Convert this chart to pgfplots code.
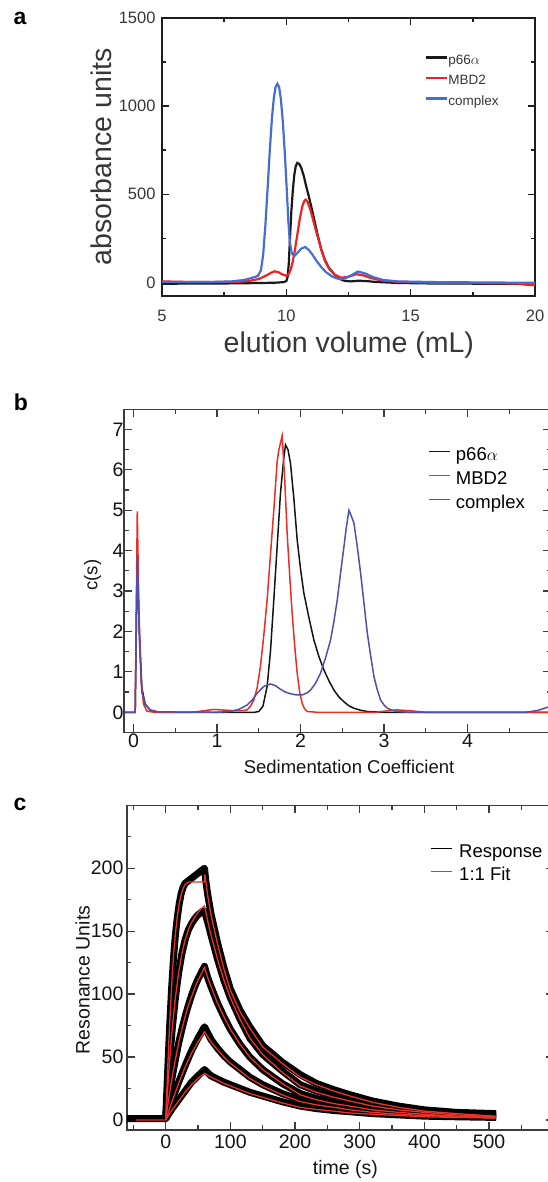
\documentclass[border=0pt]{standalone}
\usepackage{fontspec}
\setmainfont{Liberation Sans}
\usepackage{pgfplots}
\pgfplotsset{compat=1.18}
\definecolor{aBlack}{RGB}{25,25,25}
\definecolor{aRed}{RGB}{235,35,35}
\definecolor{aBlue}{RGB}{70,110,210}
\definecolor{aAxis}{RGB}{30,30,30}
\definecolor{aText}{RGB}{55,55,55}
\definecolor{bBlack}{RGB}{20,20,20}
\definecolor{bRed}{RGB}{235,45,35}
\definecolor{bBlue}{RGB}{80,80,170}
\definecolor{bAxis}{RGB}{60,60,60}
\definecolor{cRed}{RGB}{235,50,40}
\begin{document}
\begin{tikzpicture}
\useasboundingbox (0pt,0pt) rectangle (547pt,1182pt);
\pgfplotsset{every axis/.append style={scale only axis,
  /pgf/number format/assume math mode=true,
  /pgf/number format/1000 sep={}, scaled ticks=false, legend cell align=left}}

% ---------------- panel a ----------------
\begin{axis}[
  at={(162pt,886.3pt)}, anchor=south west,
  width=373pt, height=277.7pt,
  xmin=5, xmax=20, ymin=-75, ymax=1500,
  xtick={5,10,15,20}, minor xtick={7.5,12.5,17.5},
  ytick={0,500,1000,1500}, minor ytick={250,750,1250},
  major tick length=7pt, minor tick length=4pt,
  axis line style={line width=1.8pt, color=aAxis},
  tick style={line width=1.6pt, color=aAxis},
  tick label style={font=\fontsize{16.5}{18}\selectfont, color=aText},
  xticklabel style={yshift=-11pt},
  yticklabel style={xshift=-3pt},
  xlabel={elution volume (mL)}, ylabel={absorbance units},
  label style={font=\fontsize{28.5}{30}\selectfont, color=aText},
  xlabel style={at={(axis description cs:0.501,-0.1775)}, anchor=center},
  ylabel style={at={(axis description cs:-0.1635,0.5)}, anchor=center},
  legend style={at={(axis description cs:0.704,0.868)}, anchor=north west,
    draw=none, fill=none, inner sep=0pt, outer sep=0pt,
    font=\fontsize{13.5}{14}\selectfont, text=aText, row sep=7.8pt,
    nodes={inner sep=0pt, text height=9.7pt, text depth=3pt},
    /tikz/every odd column/.append style={column sep=0.5pt}},
  legend image code/.code={\draw[#1] (0pt,3.5pt) -- (21pt,3.5pt);},
]
\addplot[aBlack, line width=2.2pt] coordinates {(5,-8) (6,-6) (7,-6) (8,-5) (9,-3) (9.6,-1) (9.9,2) (10.0,8) (10.05,30) (10.1,110) (10.15,260) (10.2,400) (10.26,520) (10.32,610) (10.38,660) (10.44,678) (10.52,672) (10.6,650) (10.7,605) (10.8,545) (10.9,490) (11.0,432) (11.14,345) (11.27,263) (11.4,190) (11.54,131) (11.7,85) (11.94,45) (12.15,20) (12.34,9) (12.6,6) (12.9,10) (13.2,8) (13.6,3) (14.5,-3) (16,-6) (18,-7) (20,-8)};
\addlegendentry{p66$\alpha$}
\addplot[aRed, line width=2.2pt] coordinates {(5,6) (6,3) (7,2) (8,3) (8.5,8) (8.9,20) (9.2,40) (9.4,56) (9.53,63) (9.68,58) (9.85,45) (10.0,38) (10.1,48) (10.18,75) (10.26,120) (10.34,180) (10.44,270) (10.54,360) (10.64,430) (10.72,462) (10.78,470) (10.86,455) (10.95,420) (11.05,370) (11.17,305) (11.3,240) (11.43,175) (11.56,122) (11.72,78) (11.94,44) (12.2,27) (12.5,32) (12.81,47) (13.1,40) (13.4,25) (13.8,12) (14.5,3) (16,-2) (18,-4) (19.3,-6) (19.7,-14) (20,-14)};
\addlegendentry{MBD2}
\addplot[aBlue, line width=2.2pt] coordinates {(5,3) (6,2) (7,3) (7.8,6) (8.3,14) (8.6,25) (8.86,37) (8.98,70) (9.07,160) (9.16,330) (9.25,540) (9.34,760) (9.42,930) (9.5,1050) (9.57,1110) (9.64,1127) (9.71,1108) (9.78,1040) (9.86,910) (9.94,730) (10.02,520) (10.08,350) (10.14,230) (10.22,165) (10.32,150) (10.45,168) (10.6,192) (10.76,201) (10.9,185) (11.05,158) (11.2,125) (11.4,88) (11.6,58) (11.85,33) (12.1,20) (12.35,22) (12.6,40) (12.88,62) (13.15,52) (13.5,30) (13.9,14) (14.5,6) (16,2) (18,0) (20,-2)};
\addlegendentry{complex}
\end{axis}

% ---------------- panel b ----------------
\begin{axis}[
  at={(124pt,449.5pt)}, anchor=south west,
  width=427pt, height=323.2pt,
  xmin=-0.114, xmax=5, ymin=-0.5, ymax=7.5,
  xtick={0,1,2,3,4}, minor xtick={0.5,1.5,2.5,3.5,4.5},
  ytick={0,1,2,3,4,5,6,7}, minor ytick={0.5,1.5,2.5,3.5,4.5,5.5,6.5},
  major tick length=8pt, minor tick length=4.5pt,
  axis line style={line width=1.3pt, color=bAxis},
  tick style={line width=1.2pt, color=bAxis},
  tick label style={font=\fontsize{19.5}{21}\selectfont, color=bBlack},
  xticklabel style={yshift=2pt},
  yticklabel style={xshift=3pt},
  xlabel={Sedimentation Coefficient}, ylabel={c(s)},
  label style={font=\fontsize{18.5}{20}\selectfont, color=bBlack},
  xlabel style={at={(axis description cs:0.527,-0.106)}, anchor=center},
  ylabel style={at={(axis description cs:-0.0738,0.487)}, anchor=center},
  legend style={at={(axis description cs:0.713,0.882)}, anchor=north west,
    draw=none, fill=none, inner sep=0pt, outer sep=0pt,
    font=\fontsize{18.5}{20}\selectfont, row sep=6.6pt,
    nodes={inner sep=0pt, text height=13.3pt, text depth=4.1pt},
    /tikz/every odd column/.append style={column sep=5pt}},
  legend image code/.code={\draw[#1] (0pt,4.6pt) -- (21pt,4.6pt);},
]
\addplot[bBlack, line width=1.5pt] coordinates {(-0.1,0) (0.02,0) (0.045,3.9) (0.07,2.0) (0.1,0.6) (0.14,0.2) (0.2,0.05) (0.3,0) (1.0,0) (1.45,0) (1.5,0.02) (1.55,0.15) (1.6,0.64) (1.64,1.5) (1.68,2.78) (1.72,4.1) (1.76,5.42) (1.8,6.3) (1.82,6.62) (1.85,6.5) (1.88,6.16) (1.92,5.3) (1.96,4.27) (2.0,3.55) (2.04,2.95) (2.1,2.35) (2.16,1.79) (2.22,1.38) (2.28,1.05) (2.34,0.78) (2.4,0.55) (2.46,0.38) (2.52,0.26) (2.58,0.16) (2.64,0.1) (2.72,0.05) (2.8,0.02) (3.0,0) (5,0)};
\addlegendentry{p66$\alpha$}
\addplot[bRed, line width=1.5pt] coordinates {(-0.1,0) (0.02,0) (0.045,4.97) (0.065,2.5) (0.09,0.8) (0.12,0.2) (0.16,0.03) (0.25,0) (0.7,0) (0.85,0.04) (0.96,0.07) (1.05,0.06) (1.2,0.04) (1.3,0.04) (1.36,0.06) (1.4,0.15) (1.44,0.3) (1.48,0.6) (1.52,1.13) (1.56,1.9) (1.6,2.78) (1.64,3.9) (1.68,5.0) (1.72,6.2) (1.74,6.49) (1.78,6.84) (1.81,5.8) (1.84,4.43) (1.87,3.4) (1.9,2.45) (1.93,1.65) (1.96,0.97) (1.99,0.5) (2.02,0.22) (2.05,0.08) (2.08,0.02) (2.2,0) (2.9,0) (3.05,0.04) (3.15,0.06) (3.3,0.04) (3.5,0) (5,0)};
\addlegendentry{MBD2}
\addplot[bBlue, line width=1.5pt] coordinates {(-0.1,0) (0.02,0) (0.045,3.9) (0.07,1.8) (0.1,0.5) (0.14,0.2) (0.2,0.06) (0.3,0.01) (1.0,0) (1.16,0.02) (1.26,0.07) (1.36,0.18) (1.42,0.3) (1.48,0.47) (1.56,0.64) (1.64,0.70) (1.7,0.66) (1.76,0.57) (1.82,0.5) (1.88,0.46) (1.95,0.43) (2.02,0.43) (2.08,0.48) (2.12,0.55) (2.18,0.72) (2.24,0.97) (2.3,1.35) (2.36,1.79) (2.4,2.25) (2.44,2.78) (2.48,3.45) (2.52,4.1) (2.55,4.6) (2.58,5.0) (2.61,4.85) (2.64,4.68) (2.68,4.1) (2.72,3.44) (2.76,2.7) (2.8,1.96) (2.84,1.4) (2.88,0.88) (2.92,0.55) (2.96,0.3) (3.0,0.18) (3.04,0.1) (3.1,0.05) (3.16,0.02) (3.3,0) (4.7,0) (4.85,0.05) (4.95,0.12) (5,0.15)};
\addlegendentry{complex}
\end{axis}

% ---------------- panel c ----------------
\begin{axis}[
  at={(126.9pt,52pt)}, anchor=south west,
  width=426.8pt, height=324.7pt,
  xmin=-60, xmax=600, ymin=-8, ymax=250,
  xtick={0,100,200,300,400,500}, minor xtick={-50,50,150,250,350,450,550},
  ytick={0,50,100,150,200}, minor ytick={25,75,125,175,225},
  major tick length=8pt, minor tick length=4.5pt,
  axis line style={line width=1.3pt, color=bAxis},
  tick style={line width=1.2pt, color=bAxis},
  tick label style={font=\fontsize{19.5}{21}\selectfont, color=bBlack},
  xticklabel style={yshift=-1.5pt},
  xlabel={time (s)}, ylabel={Resonance Units},
  label style={font=\fontsize{19.5}{21}\selectfont, color=bBlack},
  xlabel style={at={(axis description cs:0.512,-0.123)}, anchor=center},
  ylabel style={at={(axis description cs:-0.1038,0.462)}, anchor=center},
  legend style={at={(axis description cs:0.710,0.879)}, anchor=north west,
    draw=none, fill=none, inner sep=0pt, outer sep=0pt,
    font=\fontsize{18.5}{20}\selectfont, row sep=5.3pt,
    nodes={inner sep=0pt, text height=13.3pt, text depth=4.1pt},
    /tikz/every odd column/.append style={column sep=7pt}},
  legend image code/.code={\draw[#1,line width=1.3pt] (0pt,4.6pt) -- (21pt,4.6pt);},
]
\addplot[black, line width=7pt, line join=round] coordinates {(-60,1) (0,1) (3,38) (6,73) (9,103) (12,128) (15,147) (18,161) (21,172) (24,180) (27,185) (30,188) (40,192) (50,196) (60,200) (62,190) (65,179) (70,164) (80,141) (90,121) (100,104) (115,87) (130,74) (150,59) (180,46) (208,36) (233,29) (260,24) (285,20) (320,15) (360,11) (400,8) (450,6) (511,5)};
\addlegendentry{Response}
\addplot[black, line width=7pt, line join=round, forget plot] coordinates {(0,1) (5,40) (10,72) (15,97) (20,117) (25,132) (30,143) (35,151) (40,156) (45,160) (50,163) (55,165) (60,166) (65,157) (70,147) (80,128) (90,111) (100,97) (115,80) (130,65) (150,52) (180,39) (208,28) (233,23) (260,19) (285,16) (320,12) (360,9) (400,7) (450,5) (511,4)};
\addplot[black, line width=7pt, line join=round, forget plot] coordinates {(0,1) (5,18) (10,34) (15,48) (20,61) (25,72) (30,82) (35,91) (40,99) (45,106) (50,112) (55,117) (60,122) (65,113) (70,106) (80,93) (90,82) (100,72) (115,60) (130,50) (150,40) (180,29) (208,21) (233,17) (260,14) (285,12) (320,9) (360,7) (400,5) (450,4) (511,3)};
\addplot[black, line width=7pt, line join=round, forget plot] coordinates {(0,1) (10,16) (20,30) (30,43) (40,55) (50,65) (60,74) (70,64) (80,57) (90,51) (100,46) (115,40) (130,34) (150,28) (180,21) (208,16) (233,13) (260,11) (285,9) (320,7) (360,5.5) (400,4.5) (450,3.5) (511,3)};
\addplot[black, line width=7pt, line join=round, forget plot] coordinates {(0,1) (10,9) (20,16) (30,23) (40,30) (50,35) (60,40) (70,35) (80,32.5) (90,30) (100,28) (115,25) (130,22) (150,19) (180,14.5) (208,11) (233,9) (260,7.5) (285,6.5) (320,5) (360,4) (400,3) (450,2.5) (511,2)};
\addplot[cRed, line width=1.3pt] coordinates {(-46,0) (0,0) (3,40) (6,75) (9,105) (12,130) (15,148) (18,162) (21,172) (24,179) (27,184) (30,187) (35,189) (60,189) (60.5,195) (65,178) (70,163) (80,140) (90,120) (100,103) (115,86) (130,73) (150,58) (180,45) (208,34) (233,28) (260,23) (285,19) (320,14) (360,10) (400,7) (450,5) (510,3)};
\addlegendentry{1:1 Fit}
\addplot[cRed, line width=1.3pt, forget plot] coordinates {(0,0) (5,40) (10,72) (15,97) (20,117) (25,132) (30,143) (35,151) (40,157) (45,161) (50,165) (55,168) (60,170) (65,158) (70,147) (80,128) (90,111) (100,97) (115,80) (130,65) (150,52) (180,38) (208,27) (233,22) (260,18) (285,15) (320,11) (360,8) (400,6) (450,4) (510,2.5)};
\addplot[cRed, line width=1.3pt, forget plot] coordinates {(0,0) (5,18) (10,34) (15,48) (20,61) (25,72) (30,82) (35,91) (40,98) (45,105) (50,111) (55,116) (60,121) (65,113) (70,106) (80,93) (90,82) (100,72) (115,60) (130,50) (150,40) (180,29) (208,20) (233,16) (260,13) (285,11) (320,8) (360,6) (400,4.5) (450,3) (510,2)};
\addplot[cRed, line width=1.3pt, forget plot] coordinates {(0,0) (10,15) (20,29) (30,42) (40,53) (50,62) (60,70) (70,62) (80,56) (90,50) (100,45) (115,39) (130,33) (150,27) (180,20) (208,14.6) (233,12) (260,10) (285,8) (320,6) (360,4.5) (400,3.5) (450,2.5) (510,1.5)};
\addplot[cRed, line width=1.3pt, forget plot] coordinates {(0,0) (10,8) (20,15) (30,22) (40,28) (50,33) (60,37) (70,34) (80,31.5) (90,29) (100,27) (115,24) (130,21) (150,18) (180,13.5) (208,10) (233,8.3) (260,7) (285,5.5) (320,4.5) (360,3.5) (400,2.5) (450,2) (510,1.5)};
\end{axis}

\node[font=\bfseries\fontsize{23}{24}\selectfont] at (20pt,1163.7pt) {a};
\node[font=\bfseries\fontsize{23}{24}\selectfont] at (21pt,779.5pt) {b};
\node[font=\bfseries\fontsize{23}{24}\selectfont] at (20pt,378pt) {c};
\end{tikzpicture}
\end{document}
